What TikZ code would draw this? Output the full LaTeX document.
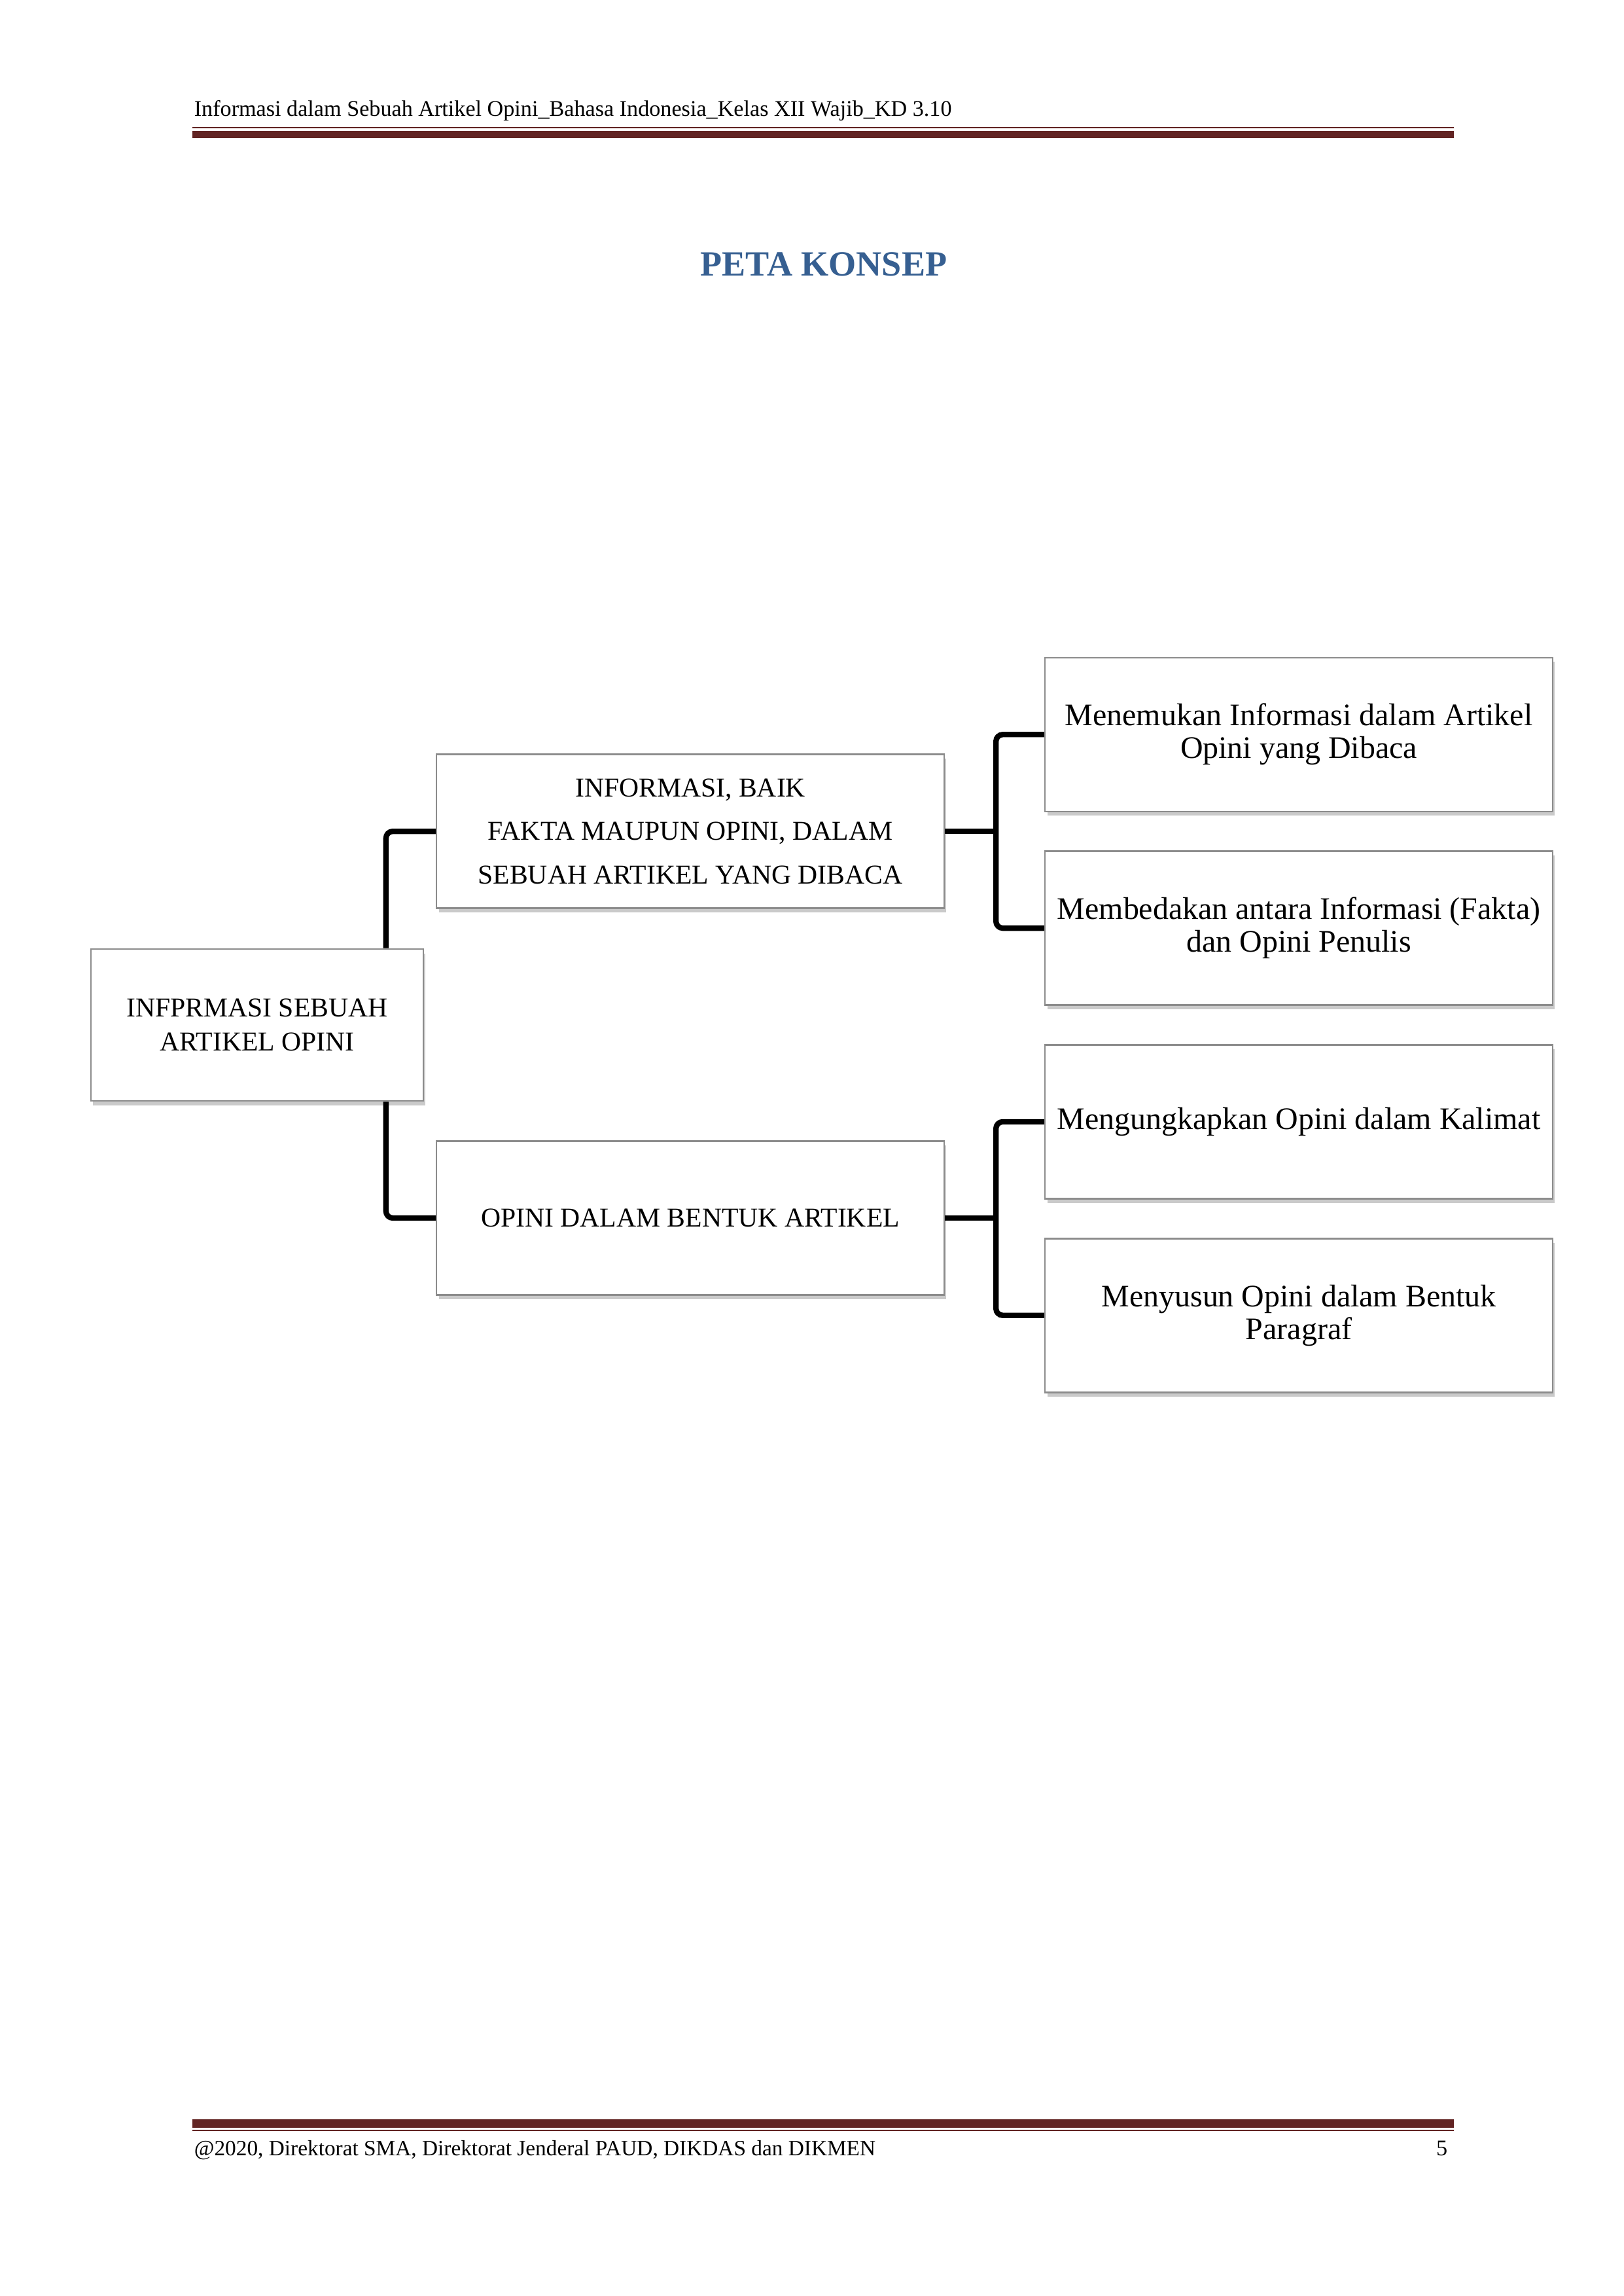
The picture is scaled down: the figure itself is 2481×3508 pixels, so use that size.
\documentclass[tikz,border=0pt]{standalone}
\usepackage{fontspec}
\setmainfont{Liberation Serif}
\usepackage{tikz}
\usetikzlibrary{positioning, calc, shadows}
\definecolor{lineRed}{HTML}{622423}
\definecolor{titleBlue}{HTML}{365F91}

\begin{document}
\begin{tikzpicture}[x=0.24pt,y=-0.24pt,on grid,
        box/.style={draw=black!45, line width=0.6pt, fill=white,
            minimum width=186.2pt, minimum height=56.4pt, align=center, inner xsep=1pt,
            drop shadow={shadow xshift=0.8pt, shadow yshift=-1.6pt, fill=black!35, opacity=0.6}},
        capbox/.style={box, font=\fontsize{10}{12.6}\selectfont},
        txtbox/.style={box, font=\fontsize{11.5}{12}\selectfont},
        pagetext/.style={anchor=base west, inner sep=0pt, font=\fontsize{8.2}{10}\selectfont},
        link/.style={line width=2pt, rounded corners=2.5pt}]

        \useasboundingbox (0,0) rectangle (2481,3508);

        % header and footer
        \node[pagetext] (head) at (296,178) {Informasi dalam Sebuah Artikel Opini\_Bahasa Indonesia\_Kelas XII Wajib\_KD 3.10};
        \draw[lineRed, line width=0.5pt] (294,195) -- (2222,195);
        \draw[lineRed, line width=2.6pt] (294,205.5) -- (2222,205.5);
        \draw[lineRed, line width=3pt] (294,3244.5) -- (2222,3244.5);
        \draw[lineRed, line width=0.5pt] (294,3255) -- (2222,3255);
        \node[pagetext, font=\fontsize{8}{10}\selectfont] (foot) at (296,3293) {@2020, Direktorat SMA, Direktorat Jenderal PAUD, DIKDAS dan DIKMEN};
        \node[pagetext, anchor=base east] (page) at (2213,3293) {5};

        \node[font=\fontsize{13}{15}\selectfont\bfseries, text=titleBlue, anchor=base] (title) at (1259,422) {PETA KONSEP};

        % concept map
        \node[capbox, minimum width=121.9pt, minimum height=55.7pt] (root) at (393,1566) {INFPRMASI SEBUAH\\ARTIKEL OPINI};
        \node[capbox, font=\fontsize{10}{16}\selectfont] (info) [above right=71pt and 158.9pt of root] {INFORMASI, BAIK\\FAKTA MAUPUN OPINI, DALAM\\SEBUAH ARTIKEL YANG DIBACA};
        \node[capbox] (opini) [below=141.8pt of info] {OPINI DALAM BENTUK ARTIKEL};

        \node[txtbox] (temu) [above right=35.5pt and 223.2pt of info] {Menemukan Informasi dalam Artikel\\Opini yang Dibaca};
        \node[txtbox] (beda) [below=71pt of temu] {Membedakan antara Informasi (Fakta)\\dan Opini Penulis};
        \node[txtbox] (ungkap) [below=71pt of beda] {Mengungkapkan Opini dalam Kalimat};
        \node[txtbox] (susun) [below=71pt of ungkap] {Menyusun Opini dalam Bentuk\\Paragraf};

        \coordinate (f1) at ([xshift=18.7pt]info.east);
        \coordinate (f2) at ([xshift=18.7pt]opini.east);

        \draw[link] (info.west) -| ([xshift=-14pt]root.north east);
        \draw[link] (opini.west) -| ([xshift=-14pt]root.south east);
        \draw[link] (info.east) -- (f1);
        \draw[link] (temu.west) -| (f1) |- (beda.west);
        \draw[link] (opini.east) -- (f2);
        \draw[link] (ungkap.west) -| (f2) |- (susun.west);

    \end{tikzpicture}
\end{document}
